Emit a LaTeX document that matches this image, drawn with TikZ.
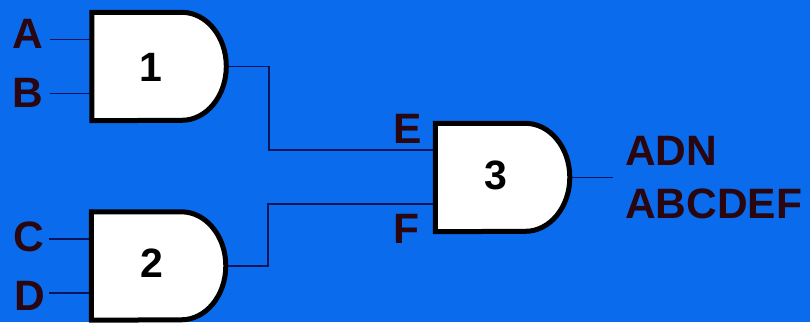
\documentclass[tikz,border=0pt]{standalone}
\usepackage{fontspec}
\setmainfont{Liberation Sans}
\usetikzlibrary{calc}
\definecolor{fundo}{HTML}{0A6CEC}
\definecolor{letra}{HTML}{2A0610}
\definecolor{fio}{HTML}{0A1458}
\tikzset{
	porta/.style={minimum width=134.5pt,minimum height=108pt,inner sep=0pt,
		append after command={\pgfextra{
			\draw[fill=white,draw=black,line width=5pt,miter limit=4]
			(\tikzlastnode.north west) -- ++(90,0)
			arc[start angle=90,end angle=-90,x radius=44.5pt,y radius=54pt]
			-- (\tikzlastnode.south west) -- cycle;}}},
	numero/.style={inner sep=0pt,font=\fontsize{41}{41}\selectfont\bfseries,text=black},
	rotulo/.style={inner sep=0pt,anchor=base west,text depth=0pt,
		font=\fontsize{42.5}{42.5}\selectfont\bfseries,text=letra},
	fiacao/.style={draw=fio,line width=1.5pt}
}
\begin{document}
\begin{tikzpicture}[x=1pt,y=-1pt]
	%fundo
	\clip (0,0) rectangle (810,322);
	\fill[fundo] (0,0) rectangle (810,322);
	%portas
	\node[porta] (p1) at (159.25,66.5) {};
	\node[porta] (p2) at (158.75,266) {};
	\node[porta] (p3) at (502.75,177.5) {};
	\node[numero] (n1) at ($(p1.center)+(-8,0.5)$) {1};
	\node[numero] (n2) at ($(p2.center)+(-7,-3)$) {2};
	\node[numero] (n3) at ($(p3.center)+(-7,-2.5)$) {3};
	%entradas
	\node[rotulo] (A) at (12,48) {A};
	\node[rotulo] (B) at (12,107) {B};
	\node[rotulo] (C) at (13,251) {C};
	\node[rotulo] (D) at (14,310) {D};
	\node[rotulo] (E) at (393,143) {E};
	\node[rotulo] (F) at (393,243) {F};
	%saida
	\node[rotulo] (adn) at (625,165) {ADN};
	\node[rotulo] (seq) at (625,218) {ABCDEF};
	%fios
	\foreach \p/\d in {p1/-27,p1/27,p2/-27,p2/27}
		\draw[fiacao] ($(\p.west)+(-42,\d)$) -- ($(\p.west)+(-2,\d)$);
	\coordinate (e3) at ($(p3.west)+(-2,-27.5)$);
	\coordinate (f3) at ($(p3.west)+(-2,26.5)$);
	\coordinate (s3) at ($(p3.east)+(43,0)$);
	\draw[fiacao] ($(p1.east)+(2,0)$) -| (269,150) -- (e3);
	\draw[fiacao] ($(p2.east)+(2,0)$) -| (268,204) -- (f3);
	\draw[fiacao] ($(p3.east)+(2,0)$) -- (s3);
\end{tikzpicture}
\end{document}
